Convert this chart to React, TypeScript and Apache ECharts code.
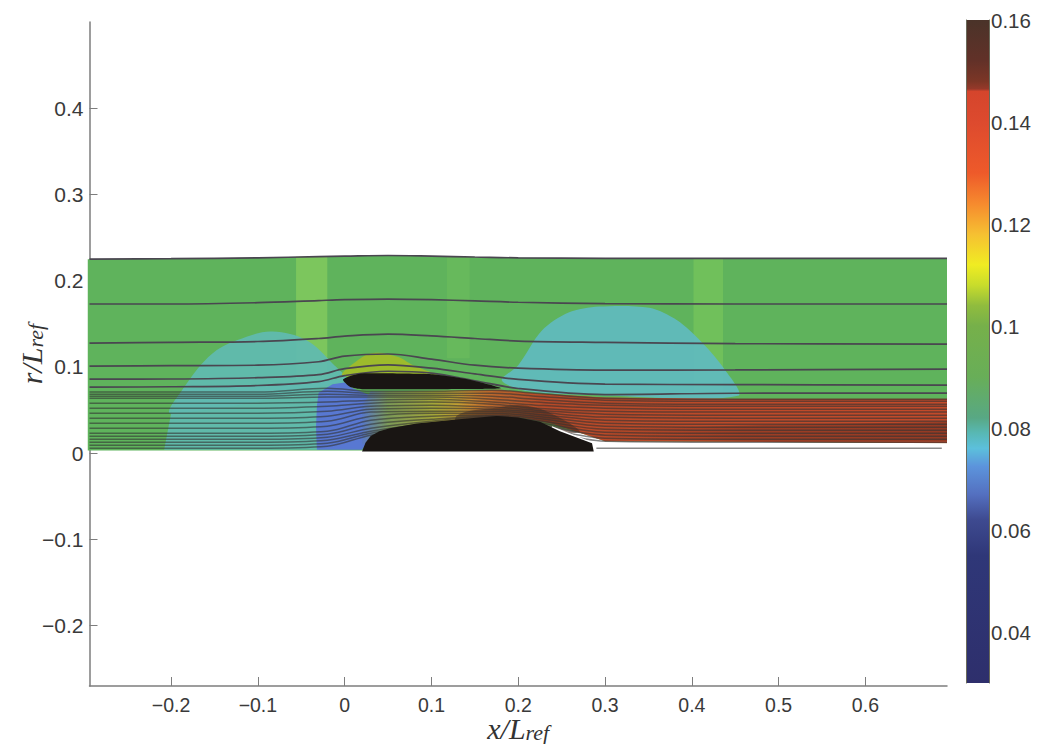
import React, { useEffect, useRef } from "react";
import * as echarts from "echarts";

type Pt = [number, number];

const xTicks = [-0.2, -0.1, 0, 0.1, 0.2, 0.3, 0.4, 0.5, 0.6];
const yTicks = [-0.2, -0.1, 0, 0.1, 0.2, 0.3, 0.4];
const cbTicks = [0.04, 0.06, 0.08, 0.1, 0.12, 0.14, 0.16];

const cbValues = [0.16, 0.152, 0.148, 0.1465, 0.146, 0.14, 0.13, 0.124, 0.118, 0.112, 0.108, 0.104, 0.1, 0.09, 0.082, 0.079, 0.076, 0.0725, 0.067, 0.062, 0.055, 0.03];
const cbColors = ["#4a3329", "#623128", "#7c3626", "#96392a", "#d5452c", "#dd4a2e", "#ee5a2a", "#f68a2e", "#f6c032", "#f0ec22", "#c8dc2c", "#90bc3e", "#76b04a", "#68ae58", "#58a884", "#58b8b4", "#5cc0dc", "#5c94dc", "#5470c0", "#3e4a90", "#2f3778", "#2e2f6c"];

const streamX = [-0.294, -0.2, -0.1, -0.03, 0, 0.05, 0.1, 0.15, 0.2, 0.3, 0.45, 0.694];
const outerStreams = [
  [0.225, 0.2255, 0.2265, 0.228, 0.2285, 0.2292, 0.2285, 0.2275, 0.2265, 0.226, 0.2258, 0.2258],
  [0.173, 0.173, 0.1745, 0.177, 0.178, 0.1787, 0.178, 0.1765, 0.175, 0.1735, 0.173, 0.173],
  [0.1276, 0.1285, 0.1295, 0.133, 0.1357, 0.138, 0.136, 0.133, 0.13, 0.1285, 0.127, 0.1265],
  [0.101, 0.1015, 0.102, 0.106, 0.1125, 0.115, 0.109, 0.102, 0.0986, 0.0963, 0.0965, 0.0974],
  [0.0858, 0.086, 0.0875, 0.091, 0.098, 0.1025, 0.0986, 0.092, 0.0855, 0.08, 0.0795, 0.079],
  [0.0765, 0.077, 0.0785, 0.083, 0.09, 0.095, 0.0928, 0.084, 0.075, 0.068, 0.0695, 0.0696],
];

const innerX = [-0.294, -0.1, -0.02, 0.03, 0.1, 0.17, 0.22, 0.3, 0.45, 0.694];
const innerStreams = [
  [0.0708, 0.0708, 0.0754, 0.0719, 0.0719, 0.0731, 0.0696, 0.0638, 0.0626, 0.0626],
  [0.0684, 0.0684, 0.0719, 0.0696, 0.0696, 0.0696, 0.0661, 0.0615, 0.0603, 0.0603],
  [0.0661, 0.0661, 0.0684, 0.0673, 0.0673, 0.0661, 0.0626, 0.058, 0.0568, 0.0568],
  [0.0638, 0.0638, 0.065, 0.065, 0.065, 0.0626, 0.0592, 0.0557, 0.0545, 0.0545],
  [0.058, 0.058, 0.0592, 0.0615, 0.0626, 0.0592, 0.0557, 0.0522, 0.051, 0.051],
  [0.0522, 0.0522, 0.0545, 0.058, 0.0592, 0.0568, 0.0522, 0.0487, 0.0476, 0.0476],
  [0.0464, 0.0464, 0.0487, 0.0545, 0.0557, 0.0534, 0.0499, 0.0452, 0.0441, 0.0441],
  [0.0406, 0.0406, 0.0429, 0.051, 0.0522, 0.051, 0.0476, 0.0418, 0.0406, 0.0406],
  [0.0348, 0.0348, 0.0371, 0.0476, 0.0487, 0.0487, 0.0452, 0.0383, 0.0371, 0.0371],
  [0.029, 0.029, 0.0313, 0.0429, 0.0464, 0.0464, 0.0429, 0.0348, 0.0336, 0.0336],
  [0.0232, 0.0232, 0.0255, 0.0383, 0.0429, 0.0441, 0.0406, 0.0313, 0.0302, 0.0302],
  [0.0197, 0.0197, 0.022, 0.0336, 0.0394, 0.0429, 0.0383, 0.0278, 0.0267, 0.0267],
  [0.0162, 0.0162, 0.0186, 0.029, 0.0371, 0.0418, 0.036, 0.0244, 0.0232, 0.0232],
  [0.0128, 0.0128, 0.0151, 0.0255, 0.0348, 0.0406, 0.0336, 0.0209, 0.0197, 0.0197],
  [0.0093, 0.0093, 0.0116, 0.0232, 0.0325, 0.0394, 0.0313, 0.0174, 0.0162, 0.0162],
  [0.0058, 0.0058, 0.0081, 0.0209, 0.0302, 0.0383, 0.029, 0.0139, 0.0128, 0.0128],
];

const domain: Pt[] = [[-0.296, 0.225], [-0.1, 0.2265], [0.05, 0.2292], [0.2, 0.2265], [0.3, 0.226], [0.694, 0.2258], [0.694, 0.0116], [0.3, 0.0139], [0.27, 0.024], [0.2, 0.04], [0.02, 0.003], [-0.296, 0.003]];
const leftBlobTop: Pt[] = [[-0.2, 0.046], [-0.186, 0.075], [-0.152, 0.116], [-0.113, 0.135], [-0.083, 0.141], [-0.044, 0.131], [-0.014, 0.104], [0, 0.085]];
const leftBlobBottom: Pt[] = [[-0.208, 0.004], [-0.2, 0.046], [-0.186, 0.075], [-0.16, 0.075], [0, 0.085], [0.004, 0.07], [-0.02, 0.04], [-0.03, 0.004]];
const rightBlobTop: Pt[] = [[0.181, 0.0845], [0.2, 0.102], [0.227, 0.142], [0.258, 0.163], [0.293, 0.17], [0.351, 0.1685], [0.383, 0.154], [0.41, 0.13], [0.436, 0.0995], [0.453, 0.0665], [0.3, 0.067], [0.21, 0.072]];
const blueZone: Pt[] = [[-0.032, 0.004], [-0.033, 0.03], [-0.032, 0.055], [-0.03, 0.07], [-0.014, 0.08], [0, 0.082], [0.01, 0.075], [0.03, 0.067], [0.045, 0.06], [0.05, 0.045], [0.035, 0.025], [0.02, 0.004]];
const yellowBlob: Pt[] = [[-0.002, 0.09], [0.01, 0.104], [0.032, 0.116], [0.06, 0.112], [0.079, 0.102], [0.11, 0.09], [0.14, 0.08], [0.06, 0.088]];
const throatZone: Pt[] = [[0.02, 0.055], [0.03, 0.0719], [0.1, 0.0725], [0.18, 0.0735], [0.22, 0.06], [0.2, 0.04], [0.1, 0.03], [0.02, 0.01]];
const tailZone: Pt[] = [[0.13, 0.073], [0.18, 0.0735], [0.22, 0.0696], [0.3, 0.0645], [0.45, 0.063], [0.694, 0.063], [0.694, 0.0116], [0.3, 0.0139], [0.27, 0.024], [0.24, 0.034], [0.2, 0.042], [0.13, 0.034]];
const tailDark: Pt[] = [[0.3, 0.028], [0.5, 0.033], [0.694, 0.036], [0.694, 0.014], [0.5, 0.0135], [0.3, 0.016]];
const hubShade: Pt[] = [[0.13, 0.044], [0.17, 0.052], [0.21, 0.055], [0.25, 0.04], [0.27, 0.024], [0.2, 0.03], [0.13, 0.03]];
const nozzleGap: Pt[] = [[0.239, 0.0313], [0.2826, 0.0139], [0.294, 0.0128], [0.329, 0.0116], [0.694, 0.0112], [0.7, 0], [0.23, 0]];
const cowl: Pt[] = [[-0.002, 0.085], [0.008, 0.09], [0.02, 0.0925], [0.1, 0.0915], [0.14, 0.086], [0.165, 0.08], [0.18, 0.0754], [0.14, 0.0745], [0.08, 0.0742], [0.02, 0.0742], [0.006, 0.077]];
const hub: Pt[] = [[0.02, 0.002], [0.024, 0.012], [0.03, 0.02], [0.04, 0.0255], [0.052, 0.029], [0.083, 0.0345], [0.135, 0.0395], [0.175, 0.0432], [0.2, 0.0415], [0.225, 0.0365], [0.248, 0.0255], [0.285, 0.0115], [0.287, 0.002]];
const stripA: Pt[] = [[-0.056, 0.228], [-0.02, 0.2285], [-0.02, 0.07], [-0.056, 0.07]];
const stripB: Pt[] = [[0.118, 0.228], [0.144, 0.228], [0.144, 0.11], [0.118, 0.11]];
const stripC: Pt[] = [[0.402, 0.2258], [0.436, 0.2258], [0.436, 0.068], [0.402, 0.068]];
const wallX = [0.29, 0.688];
const wallY = [0.0058, 0.0058];

const hGrad = (stops: [number, string][]) =>
  new echarts.graphic.LinearGradient(0, 0, 1, 0, stops.map(([offset, color]) => ({ offset, color })));

const poly = (name: string, pts: Pt[], fill: any, z: number, smooth = 0) => ({
  type: "custom" as const,
  name,
  xAxisIndex: 0,
  yAxisIndex: 0,
  z,
  silent: true,
  clip: false,
  data: pts,
  encode: { x: 0, y: 1 },
  renderItem: (p: any, api: any) =>
    p.dataIndex === 0
      ? { type: "polygon", shape: { points: pts.map((q) => api.coord(q)), smooth }, style: { fill } }
      : null,
});

const stream = (xs: number[], ys: number[], color: string, width: number, z: number) => ({
  type: "line" as const,
  xAxisIndex: 0,
  yAxisIndex: 0,
  showSymbol: false,
  smooth: 0.35,
  silent: true,
  z,
  data: xs.map((x, i) => [x, ys[i]]),
  lineStyle: { color, width },
});

const fmt = (v: number) => String(Math.round(v * 100) / 100).replace("-", "\u2212");
const labelFont = { fontFamily: "Liberation Sans", color: "#3a3a3a" };
const mathRich = {
  m: { fontFamily: "Liberation Serif", fontStyle: "italic" as const, fontSize: 30, lineHeight: 24, color: "#333" },
  s: { fontFamily: "Liberation Serif", fontStyle: "italic" as const, fontSize: 22, lineHeight: 16, color: "#333", padding: [8, 0, 0, 0] },
};

export default function App() {
  const ref = useRef<HTMLDivElement>(null);
  useEffect(() => {
    const chart = echarts.init(ref.current!, undefined, { renderer: "svg" });
    const axisLine = { show: true, onZero: false, lineStyle: { color: "#7d7d7d", width: 1.5 } };
    const cbLine = { show: true, onZero: false, lineStyle: { color: "#6a6a5a", width: 1 } };
    const cbStops = cbValues.map((v, i) => ({ offset: (0.16 - v) / 0.13, color: cbColors[i] }));
    chart.setOption({
      animation: false,
      backgroundColor: "#ffffff",
      grid: [
        { left: 89.5, width: 857.5, top: 22, height: 664, outerBoundsMode: "none" },
        { left: 966, width: 23, top: 20, height: 663, outerBoundsMode: "none" },
      ],
      xAxis: [
        {
          gridIndex: 0, type: "value", min: -0.294, max: 0.694, position: "bottom",
          axisLine, splitLine: { show: false },
          axisTick: { inside: true, length: 9, customValues: xTicks, lineStyle: { color: "#7d7d7d" } },
          axisLabel: { ...labelFont, fontSize: 19.5, margin: 9, customValues: xTicks, formatter: fmt },
          name: "{m|x/L}{s|ref}", nameLocation: "middle", nameGap: 30, nameMoveOverlap: false,
          nameTextStyle: { rich: mathRich },
        },
        { gridIndex: 1, type: "category", data: [""], show: false },
      ],
      yAxis: [
        {
          gridIndex: 0, type: "value", min: -0.27, max: 0.5, position: "left",
          axisLine, splitLine: { show: false },
          axisTick: { inside: true, length: 8, customValues: yTicks, lineStyle: { color: "#7d7d7d" } },
          axisLabel: { ...labelFont, fontSize: 21, margin: 6, customValues: yTicks, formatter: fmt },
          name: "{m|r/L}{s|ref}", nameLocation: "middle", nameGap: 46, nameRotate: 90, nameMoveOverlap: false,
          nameTextStyle: { rich: mathRich },
        },
        {
          gridIndex: 1, type: "value", min: 0.03, max: 0.16, position: "right", z: 6,
          axisLine: cbLine, splitLine: { show: false },
          axisTick: { inside: true, length: 6, customValues: cbTicks, lineStyle: { color: "#4a4a40" } },
          axisLabel: { ...labelFont, fontSize: 20.5, margin: 2, customValues: cbTicks, formatter: fmt },
        },
        {
          gridIndex: 1, type: "value", min: 0.03, max: 0.16, position: "left", z: 6,
          axisLine: cbLine, splitLine: { show: false },
          axisTick: { inside: true, length: 6, customValues: cbTicks, lineStyle: { color: "#4a4a40" } },
          axisLabel: { show: false },
        },
      ],
      series: [
        poly("domain", domain, "#5fb35c", 2),
        poly("stripA", stripA, "rgba(165,225,95,0.42)", 2),
        poly("stripB", stripB, "rgba(150,215,95,0.16)", 2),
        poly("stripC", stripC, "rgba(150,220,90,0.32)", 2),
        poly("leftBlobBottom", leftBlobBottom, "rgba(96,186,176,0.93)", 2),
        poly("leftBlobTop", leftBlobTop, "rgba(96,186,176,0.93)", 2, 0.35),
        poly("rightBlob", rightBlobTop, "rgba(96,186,190,0.93)", 2, 0.3),
        poly("yellowBlob", yellowBlob, "#9dbb2c", 2, 0.4),
        poly("blueZone", blueZone, "#5878d2", 2),
        poly("throatZone", throatZone, hGrad([[0, "#5878c8"], [0.15, "#7c9a58"], [0.42, "#a5a638"], [0.62, "#cf9a32"], [0.85, "#c46c2c"], [1, "#b04a28"]]), 2),
        poly("tailZone", tailZone, hGrad([[0, "rgba(190,90,40,0)"], [0.1, "#b8602c"], [0.18, "#b84a28"], [1, "#c24a2a"]]), 2),
        poly("tailDark", tailDark, hGrad([[0, "rgba(110,45,30,0)"], [0.4, "rgba(110,45,30,0.4)"], [1, "rgba(110,45,30,0.55)"]]), 2),
        poly("hubShade", hubShade, "rgba(70,40,25,0.55)", 2, 0.4),
        ...innerStreams.map((ys) => stream(innerX, ys, "rgba(50,50,50,0.6)", 1.5, 3)),
        ...outerStreams.map((ys) => stream(streamX, ys, "#4a4650", 1.7, 3)),
        poly("nozzleGap", nozzleGap, "#ffffff", 3.5),
        poly("cowl", cowl, "#191513", 4, 0.2),
        poly("hub", hub, "#191513", 4),
        {
          type: "line", xAxisIndex: 0, yAxisIndex: 0, showSymbol: false, silent: true, z: 4,
          data: wallX.map((x, i) => [x, wallY[i]]),
          lineStyle: { color: "#8a8a8a", width: 1.5 },
        },
        {
          type: "bar", xAxisIndex: 1, yAxisIndex: 1, barWidth: "100%", silent: true, z: 2,
          data: [cbTicks[cbTicks.length - 1]],
          itemStyle: { color: new echarts.graphic.LinearGradient(0, 0, 0, 1, cbStops) },
        },
      ],
    });
    return () => chart.dispose();
  }, []);
  return <div ref={ref} style={{ position: "absolute", left: 0, top: 0, width: 1037, height: 744 }} />;
}
